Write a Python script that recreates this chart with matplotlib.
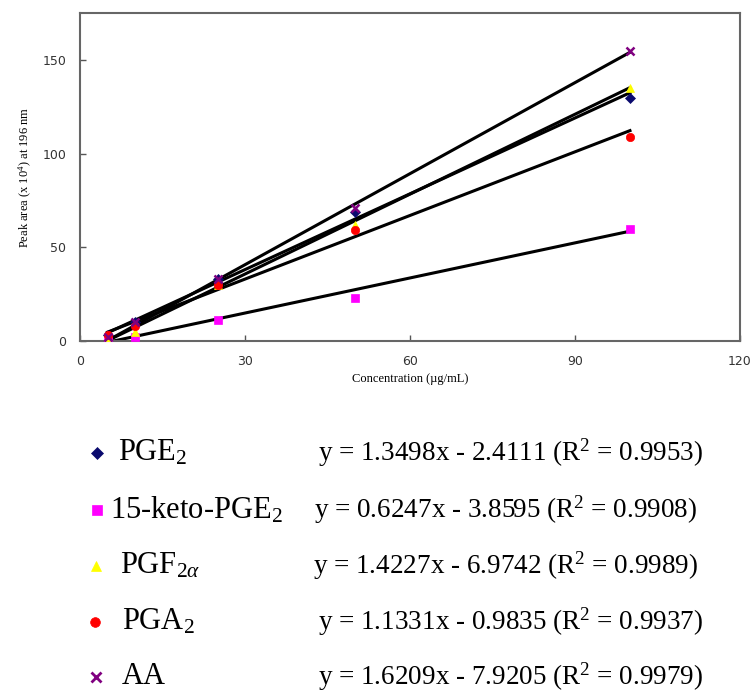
import matplotlib
matplotlib.use("Agg")
import matplotlib.pyplot as plt
import numpy as np

# ---- data ----
conc = [5, 10, 25, 50, 100]
names = ["PGE$_2$", "15-keto-PGE$_2$", "PGF$_{2\\alpha}$", "PGA$_2$", "AA"]
pge2 = [3, 10, 33, 69, 130]
keto = [0, 2, 11, 23, 60]
pgf2a = [0, 5, 30, 62, 135]
pga2 = [3, 8, 30, 59, 109]
aa = [2, 10, 33, 71, 155]
slopes = [1.3498, 0.6247, 1.4227, 1.1331, 1.6209]
intercepts = [-2.4111, -3.8595, -6.9742, -0.9835, -7.9205]
equations = ["y = 1.3498x - 2.4111 (R$^2$ = 0.9953)",
             "y = 0.6247x - 3.8595 (R$^2$ = 0.9908)",
             "y = 1.4227x - 6.9742 (R$^2$ = 0.9989)",
             "y = 1.1331x - 0.9835 (R$^2$ = 0.9937)",
             "y = 1.6209x - 7.9205 (R$^2$ = 0.9979)"]
xticks = [0, 30, 60, 90, 120]
yticks = [0, 50, 100, 150]

series = [pge2, keto, pgf2a, pga2, aa]
colors = ["#0a0a6e", "#ff00ff", "#ffff00", "#ff0000", "#800080"]
markers = ["D", "s", "^", "o", "x"]
msizes = [5, 6, 6, 6, 6]

plt.rcParams['mathtext.fontset'] = 'custom'
plt.rcParams['mathtext.rm'] = 'Liberation Serif'
plt.rcParams['mathtext.it'] = 'Liberation Serif:italic'

fig = plt.figure(figsize=(7.52, 7.00), dpi=100)
ax = fig.add_axes([0.1064, 0.513, 0.8776, 0.468])

for ys, c, m, ms, k, b in zip(series, colors, markers, msizes, slopes, intercepts):
    ax.plot(conc, ys, linestyle='none', marker=m, color=c, markersize=ms,
            markeredgewidth=1.8 if m == 'x' else 0.5, zorder=3)
    xs = np.array([conc[0], conc[-1]])
    ax.plot(xs, k * xs + b, color='black', lw=2.2, zorder=2)

ax.set_xlim(0, 120)
ax.set_ylim(0, 175)
ax.set_xticks(xticks)
ax.set_yticks(yticks)
ax.tick_params(direction='in', length=4, width=1, color='#555555', labelsize=9,
               labelcolor='#333333', pad=10)
for s in ax.spines.values():
    s.set_color('#666666')
    s.set_linewidth(1.5)
ax.set_xlabel("Concentration (\u00b5g/mL)", fontsize=9, family='Liberation Serif', labelpad=4)
ax.set_ylabel("Peak area (x 10$^4$) at 196 nm", fontsize=9, family='Liberation Serif', labelpad=6)

# ---- legend block below ----
row_y = [453, 510, 566, 622, 677]
mk_x = [97, 97, 96, 95, 96]
name_x = [118, 110, 120, 122, 122]
eq_x = [318, 314, 313, 318, 318]
for i in range(5):
    yf = 1 - row_y[i] / 700
    fig.lines.append(matplotlib.lines.Line2D([mk_x[i] / 752], [yf], transform=fig.transFigure,
                                             marker=markers[i], color=colors[i],
                                             markersize=msizes[i] + 1, linestyle='none',
                                             markeredgewidth=2 if markers[i] == 'x' else 0.5))
    fig.text(name_x[i] / 752, yf, names[i], fontsize=22, family='Liberation Serif',
             va='center', ha='left')
    fig.text(eq_x[i] / 752, yf, equations[i], fontsize=19.5, family='Liberation Serif',
             va='center', ha='left')

fig.savefig("out.png", dpi=100)
